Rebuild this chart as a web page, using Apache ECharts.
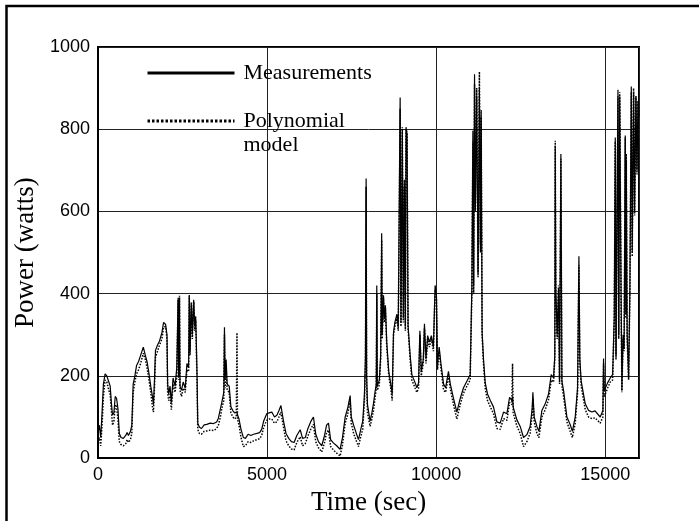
<!DOCTYPE html>
<html>
<head>
<meta charset="utf-8">
<script src="https://cdn.jsdelivr.net/npm/echarts@6/dist/echarts.min.js"></script>
<style>html,body{margin:0;padding:0;background:#fff}#c{width:699px;height:521px}</style>
</head>
<body>
<div id="c"></div>
<script>
// Time stamps (sec)
const times = [0,40,80,120,160,210,260,320,360,400,430,470,510,550,590,630,680,750,820,860,900,960,1000,1040,1090,1140,1200,1260,1340,1400,1450,1500,1560,1610,1640,1670,1700,1760,1820,1890,1940,2000,2040,2060,2090,2130,2170,2220,2280,2330,2370,2385,2410,2425,2470,2520,2580,2630,2680,2700,2720,2760,2790,2830,2860,2890,2930,2950,3000,3060,3140,3220,3315,3420,3510,3560,3620,3660,3720,3740,3760,3790,3820,3880,3930,3990,4040,4090,4110,4125,4170,4230,4300,4360,4440,4520,4600,4700,4780,4840,4900,4990,5060,5140,5220,5290,5350,5410,5480,5560,5640,5720,5800,5880,5980,6050,6130,6200,6300,6372,6440,6520,6618,6700,6760,6816,6880,6960,7060,7160,7230,7310,7380,7458,7490,7560,7640,7703,7770,7830,7880,7910,7930,7945,7970,8047,8100,8146,8200,8230,8245,8260,8320,8360,8390,8405,8443,8470,8500,8540,8600,8650,8700,8740,8780,8840,8880,8936,8960,9000,9030,9060,9090,9110,9140,9170,9232,9282,9380,9430,9480,9520,9560,9620,9655,9700,9750,9800,9860,9920,9970,10010,10040,10090,10141,10220,10280,10365,10420,10514,10613,10712,10810,10909,11007,11057,11087,11110,11136,11160,11200,11240,11280,11310,11333,11360,11400,11452,11520,11600,11698,11797,11895,11994,12093,12172,12240,12260,12280,12388,12486,12585,12684,12780,12840,12862,12900,12980,13040,13128,13227,13325,13404,13473,13510,13523,13540,13580,13620,13650,13690,13720,13769,13868,13966,14030,14114,14183,14223,14250,14290,14410,14508,14607,14700,14755,14853,14932,14952,14975,15070,15150,15220,15268,15298,15320,15378,15400,15430,15470,15494,15530,15560,15594,15610,15624,15650,15693,15730,15772,15800,15840,15870,15909,15940,15970,16000];
// Measured power (watts)
const measured = [60,80,50,110,180,205,200,185,175,130,105,110,150,145,120,60,50,48,55,62,55,65,80,180,200,225,235,250,270,250,235,210,175,150,130,190,262,275,285,305,330,325,300,180,155,175,135,195,175,220,390,200,390,175,165,185,170,230,220,397,260,375,300,385,320,345,200,85,75,72,81,82,85,84,88,97,120,135,160,318,190,240,180,175,125,115,110,110,112,105,95,70,50,48,58,55,58,60,62,70,90,108,110,112,100,104,115,128,93,60,48,40,38,55,69,48,50,70,90,100,58,40,30,55,80,85,45,37,30,21,50,100,120,152,100,80,60,45,69,90,155,250,680,200,130,90,110,132,165,180,420,175,190,250,547,300,396,338,372,282,210,185,156,306,330,350,320,877,330,800,340,677,320,805,788,322,250,203,183,171,183,310,211,240,327,242,298,282,298,270,420,393,227,270,231,180,171,211,180,145,112,145,171,187,203,416,796,420,934,600,880,450,900,500,847,306,242,183,156,141,124,88,85,112,108,148,140,150,124,93,77,50,57,77,120,160,100,77,65,116,132,156,203,195,250,760,412,300,412,190,740,187,164,100,81,65,100,171,491,242,187,132,116,112,115,112,100,116,242,164,183,195,203,345,780,250,896,300,880,400,164,300,266,785,350,725,300,195,407,904,500,890,600,880,700,866,830];
// Polynomial model (watts)
const model = [40,50,30,80,150,190,185,165,155,110,80,90,130,125,95,40,33,30,35,45,38,45,60,160,185,205,215,230,255,240,220,195,160,125,112,170,245,260,275,290,318,320,290,160,140,155,118,180,160,200,385,190,395,165,150,170,160,215,210,395,250,380,290,380,310,335,180,70,60,58,65,66,68,67,72,80,100,120,140,300,170,220,165,160,110,100,95,100,305,95,80,50,28,30,40,38,42,45,47,55,75,92,95,95,85,88,100,112,78,42,30,22,20,38,52,30,35,52,72,82,40,25,15,38,62,68,28,20,12,5,32,85,105,140,85,60,42,28,52,70,140,230,660,180,110,77,95,115,150,170,400,165,178,240,530,290,390,330,365,270,200,175,140,300,320,340,310,850,320,805,330,660,310,800,790,315,240,190,170,160,170,300,200,230,315,230,290,270,290,260,410,385,215,260,220,165,160,200,168,130,95,130,158,175,190,400,770,400,910,620,900,440,940,520,830,300,230,170,140,125,108,72,70,96,92,135,130,230,110,78,60,28,40,60,105,145,88,60,50,100,118,142,190,185,240,772,400,290,420,180,728,175,150,88,65,50,85,160,470,230,175,118,100,96,98,96,85,100,230,150,170,185,190,335,770,240,880,290,890,390,160,290,260,780,340,740,290,190,400,890,490,900,590,880,690,870,840];
const yTicks = [0,200,400,600,800,1000];
const xTicks = [0,5000,10000,15000];

const measPts = times.map((t,i)=>[t, measured[i]]);
const modelPts = times.map((t,i)=>[t, model[i]]);

const chart = echarts.init(document.getElementById('c'), null, {renderer:'canvas'});
chart.setOption({
  animation: false,
  backgroundColor: '#fff',
  graphic: [{
    type: 'rect', silent: true, z: 100,
    shape: {x: 6.5, y: 6, width: 900, height: 800},
    style: {fill: 'none', stroke: '#000', lineWidth: 2.5}
  }],
  grid: {left: 98, right: 60, top: 47, bottom: 52, show: true, borderColor: '#000', borderWidth: 2, backgroundColor: 'transparent'},
  legend: {
    left: 146, top: 61, orient: 'vertical', itemGap: 0, padding: 0,
    itemWidth: 87, itemHeight: 14,
    itemStyle: {opacity: 0},
    textStyle: {fontFamily: 'Liberation Serif', fontSize: 22, color: '#000', lineHeight: 24, padding: [0,0,0,4]},
    formatter: function(n){ return n === 'Polynomial model' ? '\nPolynomial\nmodel' : n; },
    data: [
      {name: 'Measurements', lineStyle: {width: 3, type: 'solid'}},
      {name: 'Polynomial model', lineStyle: {width: 3, type: [2.5, 2]}}
    ],
    selectedMode: false
  },
  xAxis: {
    type: 'value', min: 0, max: 16000, interval: 5000,
    name: 'Time (sec)', nameLocation: 'middle', nameGap: 22,
    nameTextStyle: {fontFamily: 'Liberation Serif', fontSize: 27, color: '#000'},
    axisLine: {show: true, lineStyle: {color: '#000', width: 2}},
    axisTick: {show: false},
    axisLabel: {fontFamily: 'Liberation Sans', fontSize: 18, color: '#000', margin: 8, showMaxLabel: false,
      formatter: function(v){ return xTicks.indexOf(v) >= 0 ? String(v) : ''; }},
    splitLine: {show: true, lineStyle: {color: '#222', width: 1}}
  },
  yAxis: {
    type: 'value', min: 0, max: 1000, interval: 200,
    name: 'Power (watts)', nameLocation: 'middle', nameGap: 51,
    nameTextStyle: {fontFamily: 'Liberation Serif', fontSize: 27, color: '#000'},
    axisLine: {show: true, lineStyle: {color: '#000', width: 2}},
    axisTick: {show: false},
    axisLabel: {fontFamily: 'Liberation Sans', fontSize: 18, color: '#000', margin: 8,
      formatter: function(v){ return yTicks.indexOf(v) >= 0 ? String(v) : ''; }},
    splitLine: {show: true, lineStyle: {color: '#222', width: 1}}
  },
  series: [
    {name: 'Measurements', type: 'line', data: measPts, symbol: 'none', smooth: false,
     lineStyle: {color: '#000', width: 1.2, type: 'solid'}, itemStyle: {color: '#000'}, z: 3},
    {name: 'Polynomial model', type: 'line', data: modelPts, symbol: 'none', smooth: false,
     lineStyle: {color: '#000', width: 1.5, type: 'dotted'}, itemStyle: {color: '#000'}, z: 4}
  ]
});
</script>
</body>
</html>
